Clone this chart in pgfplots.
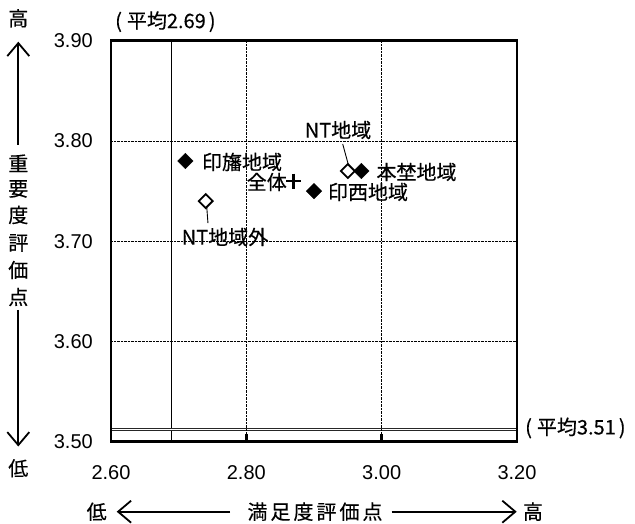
\documentclass[border=0pt]{standalone}
\usepackage{fontspec}
\setmainfont{Liberation Sans}
\newfontfamily\jp{Noto Sans CJK JP}[FakeBold=0.4]
\newfontfamily\jpwide{Noto Sans CJK JP}[LetterSpace=15,FakeBold=0.4]
\usepackage{pgfplots}
\pgfplotsset{compat=1.18}
\usetikzlibrary{arrows.meta}
\begin{document}
\begin{tikzpicture}
\useasboundingbox (0,0) rectangle (635bp,524bp);
\begin{axis}[
  at={(111bp,82.3bp)}, anchor=south west,
  scale only axis, width=406bp, height=401bp,
  xmin=2.6, xmax=3.2, ymin=3.5, ymax=3.9,
  xtick={2.6,2.8,3.0,3.2}, ytick={3.5,3.6,3.7,3.8,3.9},
  xtick pos=bottom, ytick pos=left,
  tick align=inside,
  major tick length=8bp,
  xtick style={line width=2.5bp, black},
  ytick style={draw=none},
  grid=major,
  major grid style={densely dotted, line width=0.6bp, black},
  axis line style={line width=2.8bp, black},
  axis on top,
  clip=false,
  /pgf/number format/assume math mode=true,
  /pgf/number format/.cd, fixed, fixed zerofill, precision=2,
  /pgfplots/.cd,
  tick label style={font=\fontsize{20bp}{24bp}\selectfont, inner sep=0pt},
  xticklabel style={anchor=base, yshift=-37.8bp},
  yticklabel style={anchor=east, xshift=-18bp},
]
% mean lines
\addplot[black, line width=0.9bp] coordinates {(2.69,3.5) (2.69,3.9)};
\addplot[draw=black!85, line width=0.6bp, double=white, double distance=1.4bp] coordinates {(2.6,3.512) (3.2,3.512)};
% leader lines
\addplot[black, line width=0.9bp] coordinates {(2.9424,3.797) (2.9517,3.774)};
\addplot[black, line width=0.9bp] coordinates {(2.7414,3.735) (2.7433,3.718)};
% filled diamonds
\addplot[only marks, mark=square*, mark size=5.5bp, mark options={rotate=45, fill=black, draw=black}] coordinates {(2.71,3.78) (2.90,3.75) (2.97,3.77)};
% open diamonds
\addplot[only marks, mark=square*, mark size=4.9bp, mark options={rotate=45, fill=white, draw=black, line width=1.8bp}] coordinates {(2.74,3.74) (2.95,3.77)};
% overall
\addplot[only marks, mark=+, mark size=7.5bp, mark options={line width=2.8bp, black}] coordinates {(2.87,3.76)};
\end{axis}
\begin{scope}[every node/.style={font=\jp\fontsize{20bp}{24bp}\selectfont, inner sep=0pt}]
\node at (242bp,362bp) {印旛地域};
\node[anchor=east] at (287bp,342bp) {全体};
\node at (368bp,332bp) {印西地域};
\node at (416.5bp,352bp) {本埜地域};
\node at (338bp,394bp) {NT地域};
\node at (225bp,287bp) {NT地域外};
\node[anchor=west] at (115bp,502.3bp) {(\kern5bp平均2.69\kern3bp)};
\node[anchor=west] at (525bp,96bp) {(\kern5bp平均3.51\kern3bp)};
% y title
\node at (18.3bp,505.7bp) {高};
\node at (18.3bp,360.7bp) {重};
\node at (18.3bp,335bp) {要};
\node at (18.3bp,309bp) {度};
\node at (18.3bp,281bp) {評};
\node at (18.3bp,254bp) {価};
\node at (18.3bp,227bp) {点};
\node at (18.3bp,55.7bp) {低};
% x title
\node at (96.7bp,12.3bp) {低};
\node at (533bp,12.3bp) {高};
\node[font=\jpwide\fontsize{20bp}{24bp}\selectfont] at (315bp,12.3bp) {満足度評価点};
\end{scope}
\begin{scope}[line width=1.8bp, black]
\draw[-{Straight Barb[length=13bp, width=22bp, line width=1.8bp]}] (18.3bp,379bp) -- (18.3bp,482.3bp);
\draw[-{Straight Barb[length=13bp, width=22bp, line width=1.8bp]}] (18.3bp,214bp) -- (18.3bp,77.5bp);
\draw[-{Straight Barb[length=13bp, width=22bp, line width=1.8bp]}] (230bp,12.3bp) -- (116.7bp,12.3bp);
\draw[-{Straight Barb[length=13bp, width=22bp, line width=1.8bp]}] (391.7bp,12.3bp) -- (516.7bp,12.3bp);
\end{scope}
\end{tikzpicture}
\end{document}
